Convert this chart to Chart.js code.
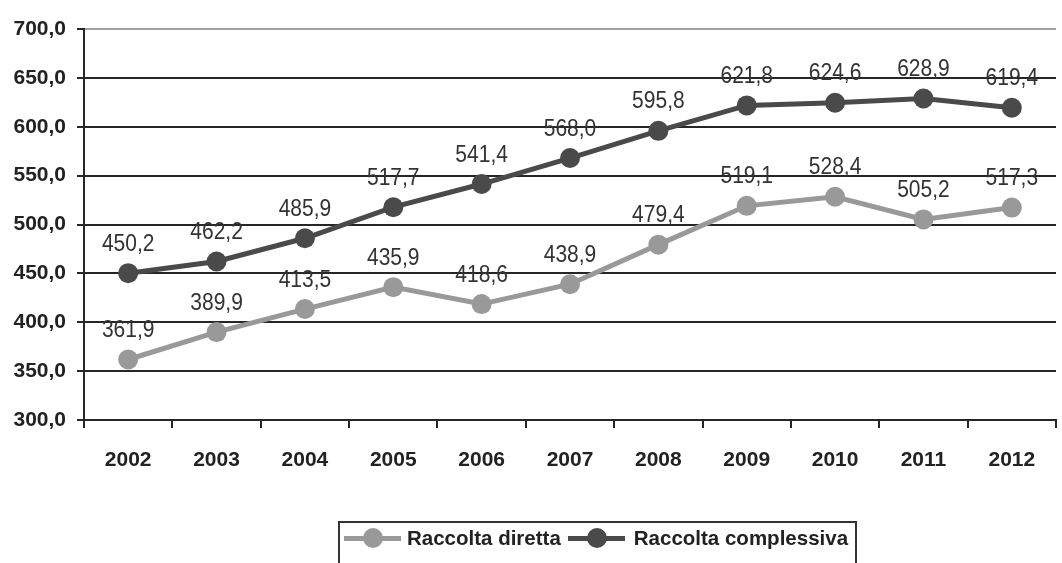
<!DOCTYPE html>
<html>
<head>
<meta charset="utf-8">
<script src="https://cdn.jsdelivr.net/npm/chart.js@4/dist/chart.umd.min.js"></script>
<style>
    body { margin: 0; background: #fff; }
    #wrap { position: relative; width: 1062px; height: 563px; overflow: hidden; }
    #chart { position: absolute; left: 0; top: 0; }
    #legend {
        position: absolute; left: 338px; top: 521px; width: 515px; height: 60px;
        border: 2px solid #333; display: flex; align-items: flex-start;
        font-family: 'Liberation Sans', Arial, sans-serif; font-weight: bold;
        font-size: 20.5px; color: #222;
    }
    .item { display: flex; align-items: center; height: 30px; }
    .marker { position: relative; width: 57px; height: 20px; margin: 0 6px 0 4px; }
    .item + .item .marker { margin: 0 9px 0 7px; }
    .marker .ln { position: absolute; left: 0; right: 0; top: 8px; height: 5px; }
    .marker .dot { position: absolute; left: 19px; top: 0; width: 20px; height: 20px; border-radius: 50%; }
</style>
</head>
<body>
<div id="wrap">
    <canvas id="chart" width="1066" height="563"></canvas>
    <div id="legend"></div>
</div>
<script>
const years = ['2002', '2003', '2004', '2005', '2006', '2007', '2008', '2009', '2010', '2011', '2012'];
const raccoltaDiretta = [361.9, 389.9, 413.5, 435.9, 418.6, 438.9, 479.4, 519.1, 528.4, 505.2, 517.3];
const raccoltaComplessiva = [450.2, 462.2, 485.9, 517.7, 541.4, 568.0, 595.8, 621.8, 624.6, 628.9, 619.4];
const seriesNames = ['Raccolta diretta', 'Raccolta complessiva'];
const yMin = 300, yMax = 700, yStep = 50;

const LIGHT = '#999999';
const DARK = '#4a4a4a';
const AXIS = '#262626';
const FONT = "'Liberation Sans', Arial, sans-serif";

const fmt = v => Number(v).toFixed(1).replace('.', ',');

// value labels above each point (slightly tall glyphs, like the original)
const pointLabels = {
    id: 'pointLabels',
    afterDatasetsDraw(chart) {
        const ctx = chart.ctx;
        ctx.save();
        ctx.font = '21px ' + FONT;
        ctx.fillStyle = '#333';
        ctx.textAlign = 'center';
        ctx.textBaseline = 'middle';
        chart.data.datasets.forEach((ds, i) => {
            chart.getDatasetMeta(i).data.forEach((pt, j) => {
                ctx.save();
                ctx.translate(pt.x, pt.y - 29);
                ctx.scale(1, 1.12);
                ctx.fillText(fmt(ds.data[j]), 0, 0);
                ctx.restore();
            });
        });
        ctx.restore();
    }
};

const chart = new Chart(document.getElementById('chart').getContext('2d'), {
    type: 'line',
    data: {
        labels: years,
        datasets: [{
            label: seriesNames[0],
            data: raccoltaDiretta,
            borderColor: LIGHT,
            backgroundColor: LIGHT,
            pointBackgroundColor: LIGHT,
            borderWidth: 5,
            pointRadius: 10,
            pointBorderWidth: 0,
            tension: 0,
            fill: false
        }, {
            label: seriesNames[1],
            data: raccoltaComplessiva,
            borderColor: DARK,
            backgroundColor: DARK,
            pointBackgroundColor: DARK,
            borderWidth: 5,
            pointRadius: 10,
            pointBorderWidth: 0,
            tension: 0,
            fill: false
        }]
    },
    plugins: [pointLabels],
    options: {
        responsive: false,
        animation: false,
        layout: { padding: { top: 29, right: 1, left: 0, bottom: 0 } },
        plugins: {
            legend: { display: false },
            tooltip: { enabled: false }
        },
        scales: {
            x: {
                offset: true,
                grid: {
                    offset: true,
                    drawOnChartArea: false,
                    color: AXIS,
                    lineWidth: 2,
                    tickLength: 8
                },
                border: { color: AXIS, width: 2 },
                ticks: {
                    color: '#222',
                    font: { family: FONT, size: 21, weight: 'bold' },
                    padding: 20,
                    maxRotation: 0,
                    autoSkip: false
                },
                afterFit(scale) { scale.height = 143; }
            },
            y: {
                min: yMin,
                max: yMax,
                grid: {
                    color: ctx => ctx.tick && ctx.tick.value === yMax ? '#a0a0a0' : AXIS,
                    tickColor: AXIS,
                    lineWidth: 2,
                    tickLength: 7
                },
                border: { color: AXIS, width: 2 },
                ticks: {
                    stepSize: yStep,
                    color: '#222',
                    font: { family: FONT, size: 21, weight: 'bold' },
                    padding: 11,
                    callback: v => fmt(v)
                },
                afterFit(scale) { scale.width = 84; }
            }
        }
    }
});

// legend built from the chart's datasets
const legend = document.getElementById('legend');
chart.data.datasets.forEach(ds => {
    const item = document.createElement('div');
    item.className = 'item';
    item.innerHTML = '<span class="marker"><span class="ln" style="background:' + ds.borderColor +
        '"></span><span class="dot" style="background:' + ds.borderColor + '"></span></span>' +
        '<span>' + ds.label + '</span>';
    legend.appendChild(item);
});
</script>
</body>
</html>
